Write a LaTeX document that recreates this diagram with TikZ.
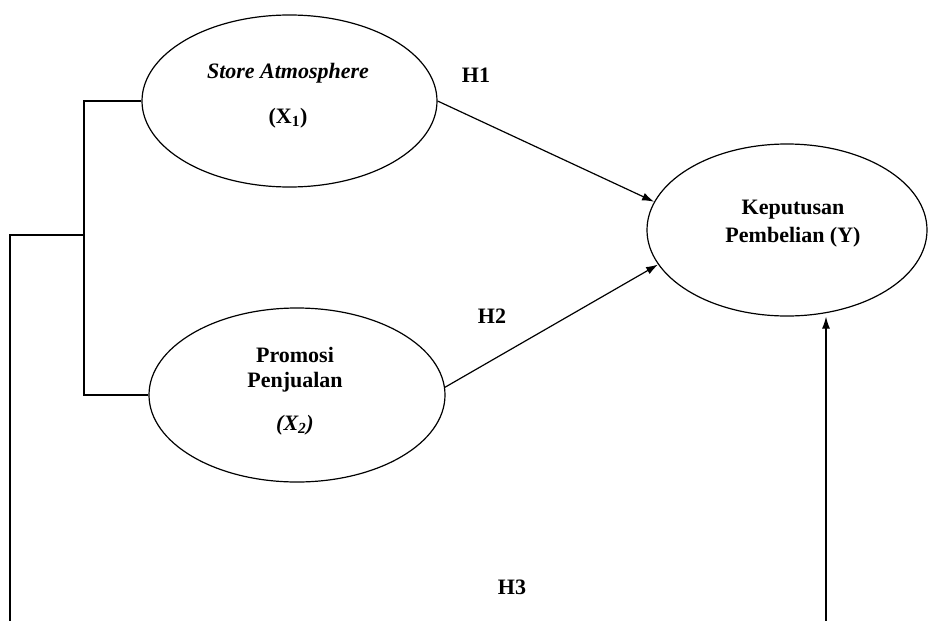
\documentclass[tikz,border=0pt]{standalone}
\usepackage{fontspec}
\setmainfont{Liberation Serif}
\usetikzlibrary{shapes.geometric,arrows.meta}
\tikzset{
  construct/.style={draw,ellipse,inner sep=0pt,line width=1.2pt},
  lbl/.style={font=\fontsize{22}{26}\selectfont\bfseries,inner sep=0pt},
  conn/.style={line width=1.2pt},
  arr/.style={line width=1.2pt,-{Latex[length=12pt,width=8pt]}}
}
\begin{document}
\begin{tikzpicture}[x=1pt,y=-1pt]
\useasboundingbox (0,0) rectangle (929,621);
% constructs
\node[construct,minimum width=295pt,minimum height=172pt] (x1) at (289.5,101) {};
\node[construct,minimum width=296pt,minimum height=174pt] (x2) at (297,395) {};
\node[construct,minimum width=280pt,minimum height=172pt] (y) at (787,230) {};
% texts
\node[lbl,font=\fontsize{22}{26}\selectfont\itshape\bfseries] (t1a) at (288,73) {Store Atmosphere};
\node[lbl] (t1b) at (288,118) {(X\textsubscript{1})};
\node[lbl] (t2a) at (295,355) {Promosi};
\node[lbl] (t2b) at (295,382) {Penjualan};
\node[lbl,font=\fontsize{22}{26}\selectfont\itshape\bfseries] (t2c) at (295,425) {(X\textsubscript{2})};
\node[lbl] (tya) at (793,210) {Keputusan};
\node[lbl] (tyb) at (793,237) {Pembelian (Y)};
% hypothesis labels
\node[lbl] (h1) at (476,75) {H1};
\node[lbl] (h2) at (492,316) {H2};
\node[lbl] (h3) at (512,587) {H3};
% bracket
\coordinate (jt) at (84,101);
\coordinate (jb) at (84,395);
\coordinate (jm) at (84,235);
\coordinate (lc) at (10,235);
\coordinate (le) at (10,621);
\coordinate (re) at (826,621);
\draw[conn] (x1.west) -- (jt) -- (jb) -- (x2.west);
\draw[conn] (jm) -- (lc) -- (le);
% arrows
\draw[arr] (x1.east) -- (y.168);
\draw[arr] (x2.3) -- (y.195);
\draw[arr] (re) -- (re |- y.south);
\end{tikzpicture}
\end{document}
